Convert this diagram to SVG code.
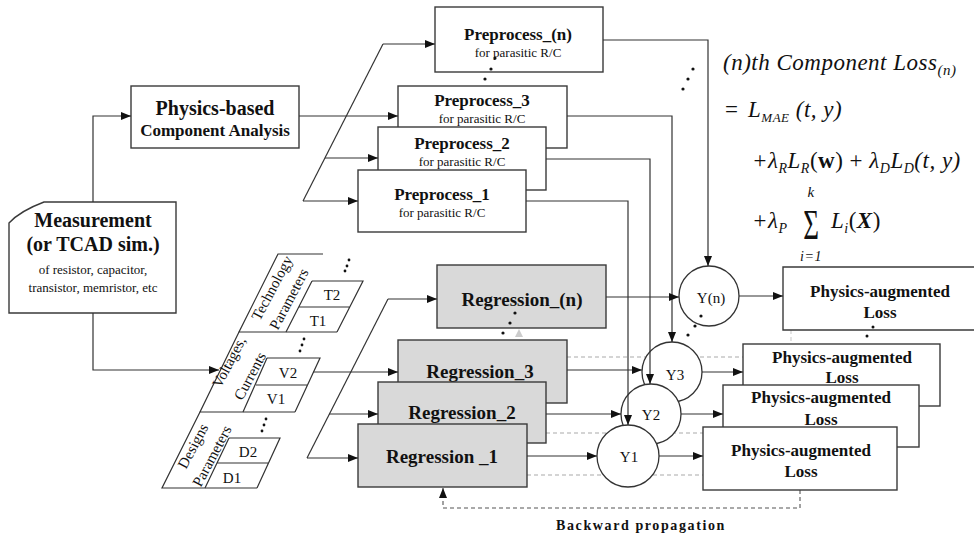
<svg xmlns="http://www.w3.org/2000/svg" width="974" height="539" viewBox="0 0 974 539" font-family="'Liberation Serif', 'DejaVu Serif', serif">
<defs>
<marker id="ah" viewBox="0 0 10 8" refX="10" refY="4" markerWidth="10" markerHeight="8" markerUnits="userSpaceOnUse" orient="auto"><path d="M0,0 L10,4 L0,8 z" fill="#111"/></marker>
</defs>
<style>
text{font-family:'Liberation Serif','DejaVu Serif',serif;fill:#111}
.box{fill:#fff;stroke:#3a3a3a;stroke-width:1.4}
.reg{fill:#d9d9d9;stroke:#3a3a3a;stroke-width:1.4}
.yc{fill:#fff;stroke:#333;stroke-width:1.3}
.ln{fill:none;stroke:#333;stroke-width:1.2}
.arr{fill:none;stroke:#333;stroke-width:1.2;marker-end:url(#ah)}
.dash{fill:none;stroke:#aaa;stroke-width:1.1;stroke-dasharray:4 3}
.pl{fill:none;stroke:#333;stroke-width:1.2}
.b{font-weight:bold}
.t20{font-size:20px}.t19{font-size:19px}.t17{font-size:17px}.t13{font-size:13px}.t15{font-size:15px}
.m{text-anchor:middle}
.dot{fill:#111}
.f{font-style:italic;font-size:23px;letter-spacing:0.5px}
</style>

<g id="feedback">
<path class="dash" d="M567,357 H743"/>
<path class="dash" d="M546,433 H723"/>
<path class="dash" d="M527,475 H703"/>
<path class="dash" d="M791,330 V344" style="stroke:#ccc"/>
<polygon points="519,329 515,337 523,337" fill="#ccc"/>
<path d="M800,490 V508 H443 V488" fill="none" stroke="#555" stroke-width="1.1" stroke-dasharray="4 3" marker-end="url(#ah)"/>
<text x="641" y="530" class="b m" style="font-size:14px;letter-spacing:1.6px">Backward propagation</text>
</g>

<g id="physics-based">
<rect class="box" x="131" y="86" width="168" height="62"/>
<text x="215" y="115" class="b m t20">Physics-based</text>
<text x="215" y="136" class="b m t17">Component Analysis</text>
</g>

<g id="measurement">
<path class="box" d="M44,202 L176,202 L176,313 L9,313 L9,223 Q20,211 44,202 Z"/>
<text x="93" y="227" class="b m t20">Measurement</text>
<text x="93" y="251" class="b m t20">(or TCAD sim.)</text>
<text x="93" y="274" class="m t13">of resistor, capacitor,</text>
<text x="93" y="292" class="m t13">transistor,  memristor, etc</text>
</g>

<g id="technology-parameters">
<path class="pl" d="M323,254 H278 L239,332 H337"/>
<path class="pl" d="M312,281 H363 L337,332 M299,307 H350 M312,281 L286,332"/>
<text x="332" y="300" class="m t15">T2</text>
<text x="318" y="326" class="m t15">T1</text>
<text transform="translate(272,288) rotate(-62)" x="0" y="5" class="m t15">Technology</text>
<text transform="translate(289,299) rotate(-62)" x="0" y="5" class="m t15">Parameters</text>
<circle class="dot" cx="345" cy="271" r="1.4"/><circle class="dot" cx="347" cy="266" r="1.4"/><circle class="dot" cx="349" cy="260" r="1.4"/>
</g>

<g id="voltages-currents">
<path class="pl" d="M239,332 L200,412 H295"/>
<path class="pl" d="M267,358 H320 L295,412 M256,385 H308 M267,358 L243,412"/>
<text x="288" y="378" class="m t15">V2</text>
<text x="276" y="404" class="m t15">V1</text>
<text transform="translate(229,362) rotate(-62)" x="0" y="5" class="m t15">Voltages,</text>
<text transform="translate(250,376) rotate(-62)" x="0" y="5" class="m t15">Currents</text>
<circle class="dot" cx="300" cy="351" r="1.4"/><circle class="dot" cx="302" cy="345" r="1.4"/><circle class="dot" cx="304" cy="339" r="1.4"/>
</g>

<g id="designs-parameters">
<path class="pl" d="M200,412 L162,488 H257"/>
<path class="pl" d="M229,438 H280 L257,488 M217,463 H268 M229,438 L205,488"/>
<text x="248" y="457" class="m t15">D2</text>
<text x="232" y="483" class="m t15">D1</text>
<text transform="translate(193,446) rotate(-62)" x="0" y="5" class="m t15">Designs</text>
<text transform="translate(212,456) rotate(-62)" x="0" y="5" class="m t15">Parameters</text>
<circle class="dot" cx="262" cy="431" r="1.4"/><circle class="dot" cx="264" cy="425" r="1.4"/><circle class="dot" cx="266" cy="419" r="1.4"/>
</g>

<g id="preprocess-n">
<rect class="box" x="435" y="7" width="168" height="65"/>
<text x="518" y="40" class="b m t17">Preprocess_(n)</text>
<text x="518" y="57" class="m t13">for parasitic R/C</text>
</g>
<g id="preprocess-3">
<rect class="box" x="398" y="86" width="169" height="62"/>
<text x="482" y="106" class="b m t17">Preprocess_3</text>
<text x="482" y="123" class="m t13">for parasitic R/C</text>
</g>
<g id="preprocess-2">
<rect class="box" x="378" y="127" width="168" height="63"/>
<text x="462" y="149" class="b m t17">Preprocess_2</text>
<text x="462" y="166" class="m t13">for parasitic R/C</text>
</g>
<g id="preprocess-1">
<rect class="box" x="358" y="170" width="168" height="62"/>
<text x="442" y="200" class="b m t17">Preprocess_1</text>
<text x="442" y="217" class="m t13">for parasitic R/C</text>
</g>
<g id="preprocess-dots">
<circle class="dot" cx="495" cy="58" r="1.6"/><circle class="dot" cx="491" cy="69" r="1.6"/><circle class="dot" cx="485" cy="79" r="1.6"/>
<circle class="dot" cx="693" cy="69" r="1.6"/><circle class="dot" cx="688" cy="79" r="1.6"/><circle class="dot" cx="683" cy="89" r="1.6"/>
</g>

<g id="regression-n">
<rect class="reg" x="437" y="265" width="169" height="63"/>
<text x="522" y="306" class="b m t19">Regression_(n)</text>
</g>
<g id="regression-3">
<rect class="reg" x="398" y="340" width="169" height="63"/>
<text x="480" y="378" class="b m t19">Regression_3</text>
</g>
<g id="regression-2">
<rect class="reg" x="378" y="382" width="168" height="61"/>
<text x="462" y="419" class="b m t19">Regression_2</text>
</g>
<g id="regression-1">
<rect class="reg" x="358" y="424" width="169" height="63"/>
<text x="442" y="463" class="b m t19">Regression _1</text>
</g>
<g id="regression-dots">
<circle class="dot" cx="515" cy="313" r="1.6"/><circle class="dot" cx="510" cy="323" r="1.6"/><circle class="dot" cx="503" cy="333" r="1.6"/>
</g>

<g id="y-n">
<circle class="yc" cx="709" cy="296" r="30"/>
<text x="711" y="303" class="m t15">Y(n)</text>
</g>
<g id="y-3">
<circle class="yc" cx="672" cy="372" r="30"/>
<text x="675" y="380" class="m t15">Y3</text>
</g>
<g id="y-2">
<circle class="yc" cx="651" cy="414" r="30"/>
<text x="651" y="420" class="m t15">Y2</text>
</g>
<g id="y-1">
<circle class="yc" cx="628" cy="456" r="31"/>
<text x="629" y="462" class="m t15">Y1</text>
</g>
<g id="y-dots">
<circle class="dot" cx="701" cy="316" r="1.6"/><circle class="dot" cx="695" cy="326" r="1.6"/><circle class="dot" cx="688" cy="335" r="1.6"/>
</g>

<g id="loss-n">
<rect x="783" y="267" width="191" height="63" fill="#fff"/>
<path d="M974,267 H783 V330 H974" fill="none" stroke="#3a3a3a" stroke-width="1.4"/>
<text x="880" y="297" class="b m t17">Physics-augmented</text>
<text x="880" y="318" class="b m t17">Loss</text>
</g>
<g id="loss-3">
<rect class="box" x="743" y="344" width="197" height="62"/>
<text x="842" y="363" class="b m t17">Physics-augmented</text>
<text x="842" y="383" class="b m t17">Loss</text>
</g>
<g id="loss-2">
<rect class="box" x="723" y="385" width="196" height="62"/>
<text x="821" y="403" class="b m t17">Physics-augmented</text>
<text x="821" y="425" class="b m t17">Loss</text>
</g>
<g id="loss-1">
<rect class="box" x="703" y="427" width="194" height="63"/>
<text x="801" y="456" class="b m t17">Physics-augmented</text>
<text x="801" y="477" class="b m t17">Loss</text>
</g>
<g id="loss-dots">
<circle class="dot" cx="873" cy="327" r="1.5"/><circle class="dot" cx="867" cy="336" r="1.5"/>
</g>

<g id="connectors">
<path class="arr" d="M93,202 V116 H131"/>
<path class="arr" d="M93,313 V370 H219"/>
<path class="arr" d="M299,116 H398"/>
<path class="ln" d="M303,201 L383,44"/>
<path class="arr" d="M383,44 H435"/>
<path class="arr" d="M325,158 H378"/>
<path class="arr" d="M303,201 H358"/>
<path class="ln" d="M307,458 L388,299"/>
<path class="arr" d="M388,299 H437"/>
<path class="arr" d="M329,414 H378"/>
<path class="arr" d="M307,458 H358"/>
<path class="arr" d="M313,372 H398"/>
<path class="arr" d="M603,40 H708 V266"/>
<path class="arr" d="M567,116 H672 V342"/>
<path class="arr" d="M546,159 H650 V384"/>
<path class="arr" d="M526,201 H628 V425"/>
<path class="arr" d="M606,297 H679"/>
<path class="arr" d="M567,370 H642"/>
<path class="arr" d="M546,414 H621"/>
<path class="arr" d="M527,456 H597"/>
<path class="arr" d="M739,296 H783"/>
<path class="arr" d="M702,372 H743"/>
<path class="arr" d="M681,414 H723"/>
<path class="arr" d="M659,456 H703"/>
</g>

<g id="formula">
<text x="723" y="70" class="f">(n)th Component Loss<tspan dy="5" font-size="15">(n)</tspan></text>
<text x="725" y="117" style="font-size:23px">=</text>
<text x="748" y="117" class="f">L<tspan dy="5" font-size="13">MAE</tspan><tspan dy="-5"> (t, y)</tspan></text>
<text x="752" y="168" class="f">+λ<tspan dy="5" font-size="14">R</tspan><tspan dy="-5">L</tspan><tspan dy="5" font-size="14">R</tspan><tspan dy="-5" font-style="normal">(</tspan><tspan font-weight="bold" font-style="normal">w</tspan><tspan font-style="normal">) + </tspan>λ<tspan dy="5" font-size="14">D</tspan><tspan dy="-5">L</tspan><tspan dy="5" font-size="14">D</tspan><tspan dy="-5">(t, y)</tspan></text>
<text x="752" y="228" class="f">+λ<tspan dy="5" font-size="14">P</tspan></text>
<text transform="translate(811,239) scale(1,1.6)" x="0" y="0" class="m" style="font-size:27px">Σ</text>
<text x="811" y="197" class="f m" style="font-size:15px">k</text>
<text x="811" y="261" class="f m" style="font-size:14px">i=1</text>
<text x="831" y="228" class="f">L<tspan dy="5" font-size="14">i</tspan><tspan dy="-5" font-style="normal">(</tspan><tspan font-weight="bold">X</tspan><tspan font-style="normal">)</tspan></text>
</g>
</svg>
